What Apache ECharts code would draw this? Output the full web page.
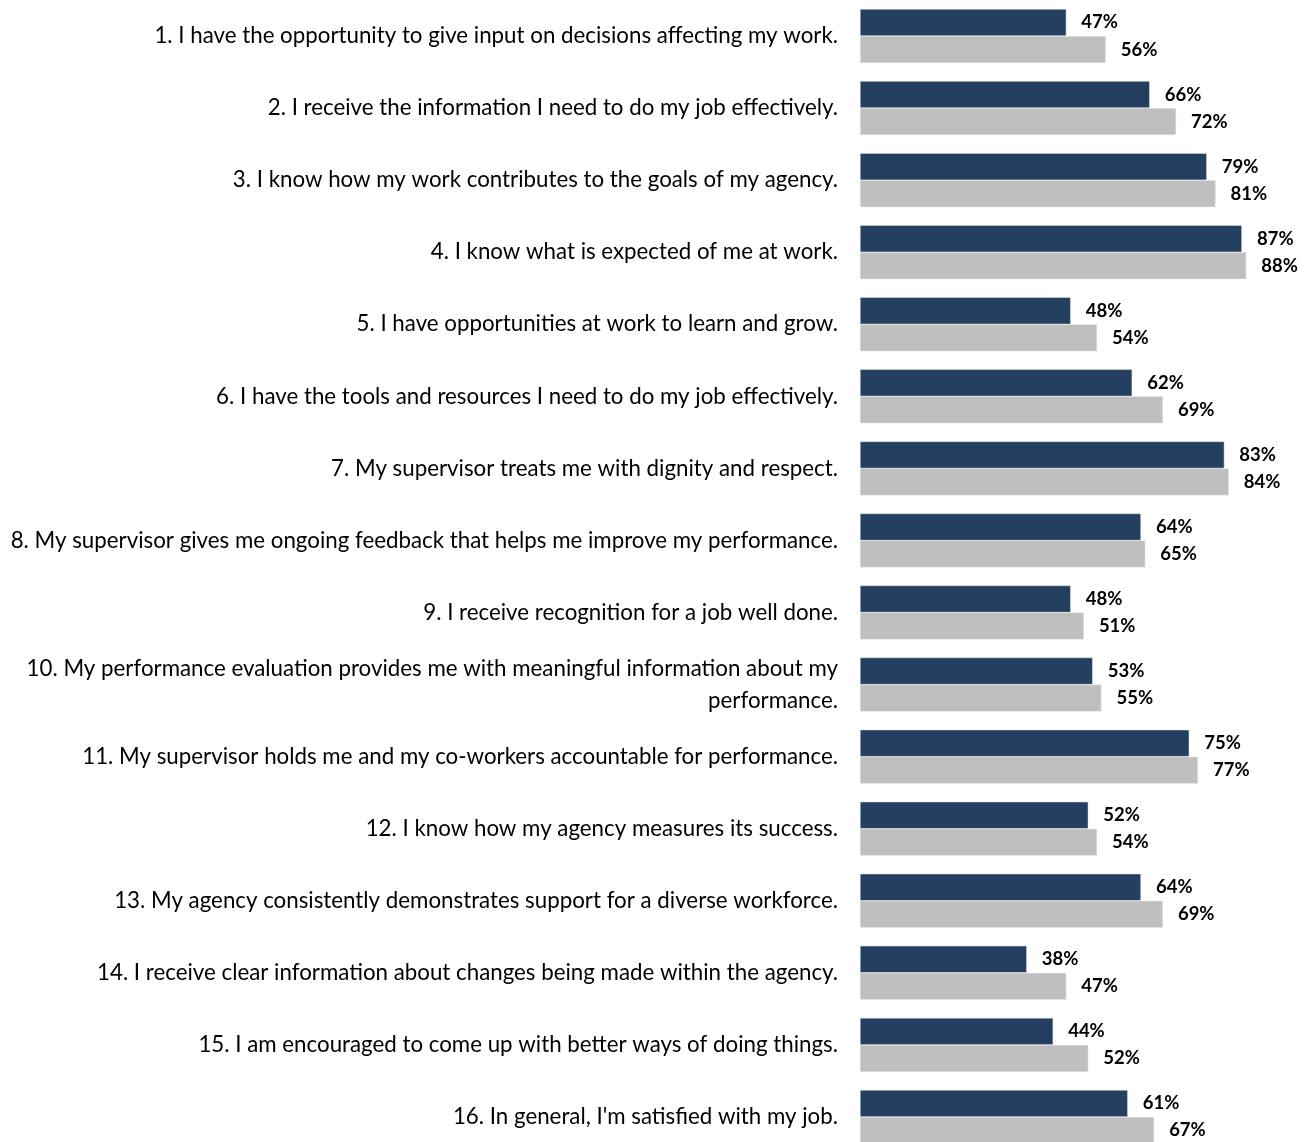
<!DOCTYPE html>
<html>
<head>
<meta charset="utf-8">
<script src="https://cdn.jsdelivr.net/npm/echarts@6/dist/echarts.min.js"></script>
<style>
html,body{margin:0;padding:0;background:#fff;overflow:hidden;}
#chart{width:1305px;height:1153px;}
</style>
</head>
<body>
<div id="chart"></div>
<script>
const categories = [
  "1. I have the opportunity to give input on decisions affecting my work.",
  "2. I receive the information I need to do my job effectively.",
  "3. I know how my work contributes to the goals of my agency.",
  "4. I know what is expected of me at work.",
  "5. I have opportunities at work to learn and grow.",
  "6. I have the tools and resources I need to do my job effectively.",
  "7. My supervisor treats me with dignity and respect.",
  "8. My supervisor gives me ongoing feedback that helps me improve my performance.",
  "9. I receive recognition for a job well done.",
  "10. My performance evaluation provides me with meaningful information about my\nperformance.",
  "11. My supervisor holds me and my co-workers accountable for performance.",
  "12. I know how my agency measures its success.",
  "13. My agency consistently demonstrates support for a diverse workforce.",
  "14. I receive clear information about changes being made within the agency.",
  "15. I am encouraged to come up with better ways of doing things.",
  "16. In general, I'm satisfied with my job."
];
const seriesDark = [47, 66, 79, 87, 48, 62, 83, 64, 48, 53, 75, 52, 64, 38, 44, 61];
const seriesGray = [56, 72, 81, 88, 54, 69, 84, 65, 51, 55, 77, 54, 69, 47, 52, 67];

const FONT = "Lato";
const chart = echarts.init(document.getElementById('chart'));
const labelStyle = {
  show: true,
  position: 'right',
  distance: 15,
  formatter: p => p.value + '%',
  fontFamily: FONT,
  fontWeight: 'bold',
  fontSize: 18.5,
  color: '#000'
};
chart.setOption({
  animation: false,
  grid: { left: 860, right: 6, top: 0, bottom: 0, containLabel: false },
  xAxis: {
    type: 'value', min: 0, max: 100,
    show: false
  },
  yAxis: {
    type: 'category',
    data: categories,
    inverse: true,
    axisLine: { show: false },
    axisTick: { show: false },
    axisLabel: {
      margin: 22,
      fontFamily: FONT,
      fontSize: 22.3,
      color: '#000',
      align: 'right',
      lineHeight: 32
    }
  },
  series: [
    {
      type: 'bar', data: seriesDark, barGap: '0%', barCategoryGap: '25%',
      itemStyle: { color: '#243F60', borderColor: '#e6e9ee', borderWidth: 0.5 },
      label: labelStyle
    },
    {
      type: 'bar', data: seriesGray,
      itemStyle: { color: '#BFBFBF', borderColor: '#e8e8e8', borderWidth: 0.5 },
      label: labelStyle
    }
  ]
});
</script>
</body>
</html>
